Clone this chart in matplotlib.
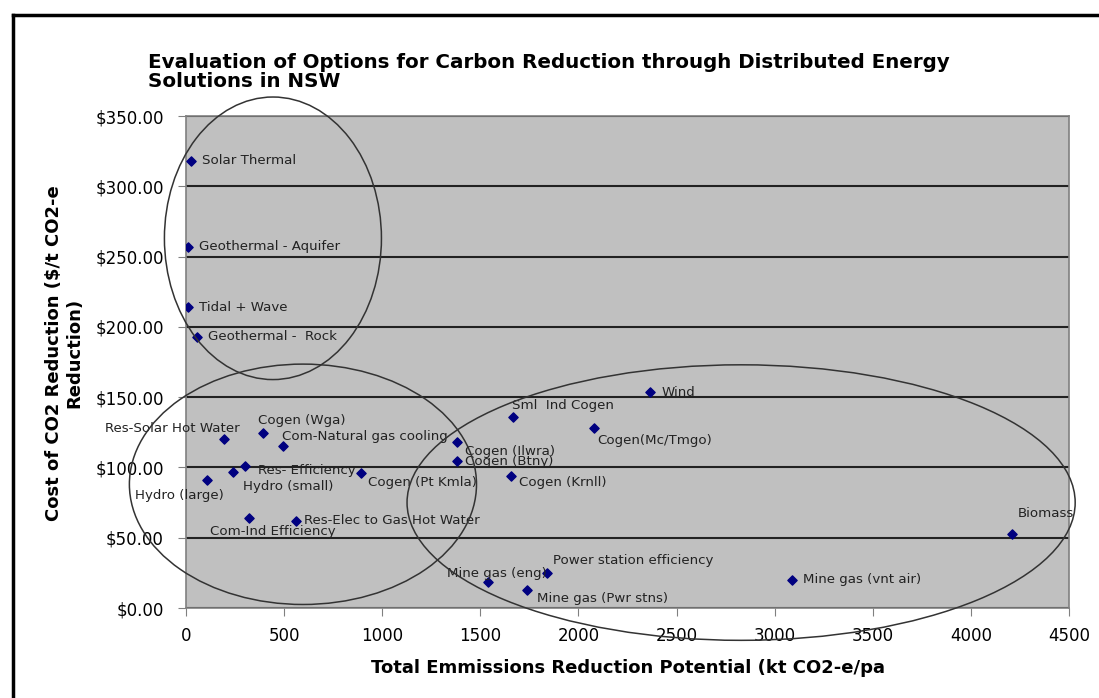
import matplotlib
matplotlib.use('Agg')
import matplotlib.pyplot as plt
from matplotlib.patches import Ellipse
from matplotlib.lines import Line2D

# options and their (potential kt CO2-e/pa, cost $/t)
options = [
    'Solar Thermal', 'Geothermal - Aquifer', 'Tidal + Wave', 'Geothermal -  Rock',
    'Res-Solar Hot Water', 'Cogen (Wga)', 'Com-Natural gas cooling', 'Res- Efficiency',
    'Hydro (small)', 'Hydro (large)', 'Cogen (Pt Kmla)', 'Com-Ind Efficiency',
    'Res-Elec to Gas Hot Water', 'Cogen (Ilwra)', 'Cogen (Btny)', 'Sml  Ind Cogen',
    'Cogen(Mc/Tmgo)', 'Cogen (Krnll)', 'Wind', 'Power station efficiency',
    'Mine gas (eng)', 'Mine gas (Pwr stns)', 'Mine gas (vnt air)', 'Biomass',
]
potential = [25, 10, 10, 56, 194, 392, 494, 301, 240, 107, 892, 321,
             561, 1381, 1381, 1667, 2080, 1656, 2365, 1840, 1540, 1737, 3089, 4210]
cost = [318, 257, 214, 193, 120, 124.5, 115, 101, 97, 91, 96, 64,
        62, 118, 104.5, 136, 128, 94, 153.6, 25, 18.5, 12.8, 20, 52.6]

# label offsets in points (dx, dy, ha)
offsets = {
    'Res-Solar Hot Water': (-37, 8, 'center'),
    'Cogen (Wga)': (28, 9, 'center'),
    'Com-Natural gas cooling': (-1, 7, 'left'),
    'Res- Efficiency': (9, -3, 'left'),
    'Hydro (small)': (7, -11, 'left'),
    'Hydro (large)': (-20, -11, 'center'),
    'Cogen (Pt Kmla)': (5, -7, 'left'),
    'Com-Ind Efficiency': (-28, -10, 'left'),
    'Res-Elec to Gas Hot Water': (6, 0, 'left'),
    'Cogen (Ilwra)': (6, -6.5, 'left'),
    'Cogen (Btny)': (6, 0, 'left'),
    'Sml  Ind Cogen': (-1, 8, 'left'),
    'Cogen(Mc/Tmgo)': (2, -9, 'left'),
    'Cogen (Krnll)': (6, -5, 'left'),
    'Power station efficiency': (4, 9, 'left'),
    'Mine gas (eng)': (-30, 6, 'left'),
    'Mine gas (Pwr stns)': (7, -6, 'left'),
    'Biomass': (4, 15, 'left'),
}

# hand drawn groupings (center x, center y, width, height) in data units
groups = [(443, 263, 1106, 201), (596, 88, 1769, 171), (2829, 75, 3405, 196)]

fig = plt.figure(figsize=(10.99, 6.98), dpi=100)
ax = fig.add_axes([186 / 1099, 1 - 608 / 698, 883 / 1099, 492 / 698])
ax.set_facecolor('#c0c0c0')

ax.scatter(potential, cost, marker='D', s=22, color='#000080', zorder=3)
for name, x, y in zip(options, potential, cost):
    dx, dy, ha = offsets.get(name, (8, 0, 'left'))
    ax.annotate(name, (x, y), xytext=(dx, dy), textcoords='offset points',
                ha=ha, va='center', fontsize=9.6, color='#222222', zorder=4)

for cx, cy, w, h in groups:
    ax.add_patch(Ellipse((cx, cy), w, h, fill=False, ec='#333333', lw=1.1,
                         clip_on=False, zorder=5))

ax.set_xlim(0, 4500)
ax.set_ylim(0, 350)
ax.set_xticks(range(0, 4501, 500))
ax.set_yticks(range(0, 351, 50))
ax.set_yticklabels([f'${v:.2f}' for v in range(0, 351, 50)])
ax.yaxis.grid(True, color='#222222', lw=1.5)
ax.set_axisbelow(True)
ax.tick_params(labelsize=12, color='#808080', length=6, direction='out')
ax.tick_params(axis='y', pad=10)
ax.tick_params(axis='x', pad=8)
for s in ax.spines.values():
    s.set_color('#808080')
    s.set_linewidth(1.2)

fig.text(148 / 1099, 1 - 72 / 698, 'Evaluation of Options for Carbon Reduction through Distributed Energy\nSolutions in NSW',
         fontsize=14.3, fontweight='bold', ha='left', va='center', linespacing=1.0)
fig.text(628 / 1099, 1 - 668 / 698, 'Total Emmissions Reduction Potential (kt CO2-e/pa',
         fontsize=13, fontweight='bold', ha='center', va='center')
fig.text(64 / 1099, 1 - 353 / 698, 'Cost of CO2 Reduction ($/t CO2-e\nReduction)',
         fontsize=13, fontweight='bold', ha='center', va='center', rotation=90)

# chart frame
fig.add_artist(Line2D([13 / 1099, 1], [1 - 15 / 698] * 2, color='black', lw=2.5))
fig.add_artist(Line2D([13 / 1099] * 2, [0, 1 - 15 / 698], color='black', lw=2.5))

fig.savefig('out.png', dpi=100)
